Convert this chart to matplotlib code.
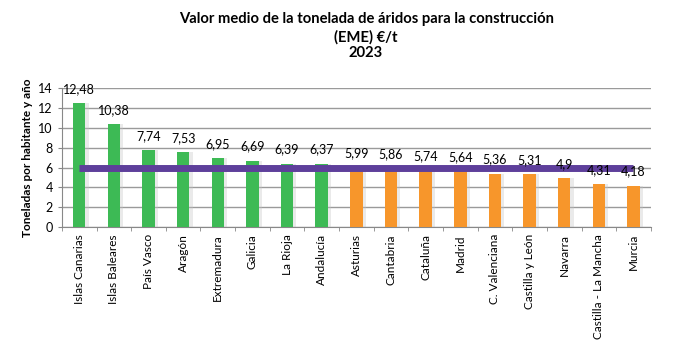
import numpy as np
import matplotlib.pyplot as plt

plt.rcParams["font.family"] = ["Lato", "DejaVu Sans"]

regions = ["Islas Canarias", "Islas Baleares", "País Vasco", "Aragón", "Extremadura",
           "Galicia", "La Rioja", "Andalucía", "Asturias", "Cantabria", "Cataluña",
           "Madrid", "C. Valenciana", "Castilla y León", "Navarra",
           "Castilla - La Mancha", "Murcia"]
values = [12.48, 10.38, 7.74, 7.53, 6.95, 6.69, 6.39, 6.37, 5.99, 5.86, 5.74,
          5.64, 5.36, 5.31, 4.9, 4.31, 4.18]
labels = ["12,48", "10,38", "7,74", "7,53", "6,95", "6,69", "6,39", "6,37", "5,99",
          "5,86", "5,74", "5,64", "5,36", "5,31", "4,9", "4,31", "4,18"]
average = [6.0] * len(regions)

green = "#3dba55"
orange = "#f7962b"
colors = [green if v > 6 else orange for v in values]

fig = plt.figure(figsize=(6.73, 3.43), dpi=100)
ax = fig.add_axes([0.092, 0.338, 0.875, 0.405])

x = np.arange(len(regions))
# soft shadow behind the bars
ax.bar(x + 0.09, values, width=0.36, color="#c4c4c4", alpha=0.35, zorder=2)
ax.bar(x, values, width=0.36, color=colors, zorder=3)
ax.plot(x, average, color="#5e3f9b", linewidth=5, solid_capstyle="butt", zorder=4)

for xi, v, lab in zip(x, values, labels):
    ax.text(xi, v + 1.45, lab, ha="center", va="center", fontsize=9, zorder=5)

ax.set_xlim(-0.5, len(regions) - 0.5)
ax.set_ylim(0, 14)
ax.set_yticks(range(0, 15, 2))
ax.tick_params(axis="y", labelsize=9, length=3, color="#888888")
ax.set_xticks(x)
ax.set_xticklabels(regions, rotation=90, fontsize=8.5)
ax.tick_params(axis="x", length=0, pad=5)
ax.set_xticks(np.arange(-0.5, len(regions), 1), minor=True)
ax.tick_params(axis="x", which="minor", length=3, color="#888888")
ax.grid(axis="y", color="#9a9a9a", linewidth=1, zorder=0)
for s in ["top", "right"]:
    ax.spines[s].set_visible(False)
ax.spines["left"].set_color("#888888")
ax.spines["bottom"].set_color("#888888")
ax.set_ylabel("Toneladas por habitante y año", fontsize=8.5, fontweight="bold", labelpad=4)

fig.text(0.544, 0.945, "Valor medio de la tonelada de áridos para la construcción",
         ha="center", va="center", fontsize=10.6, fontweight="bold")
fig.text(0.544, 0.89, "(EME) €/t", ha="center", va="center", fontsize=10.6, fontweight="bold")
fig.text(0.544, 0.845, "2023", ha="center", va="center", fontsize=10.6, fontweight="bold")

fig.savefig("out.png", dpi=100)
